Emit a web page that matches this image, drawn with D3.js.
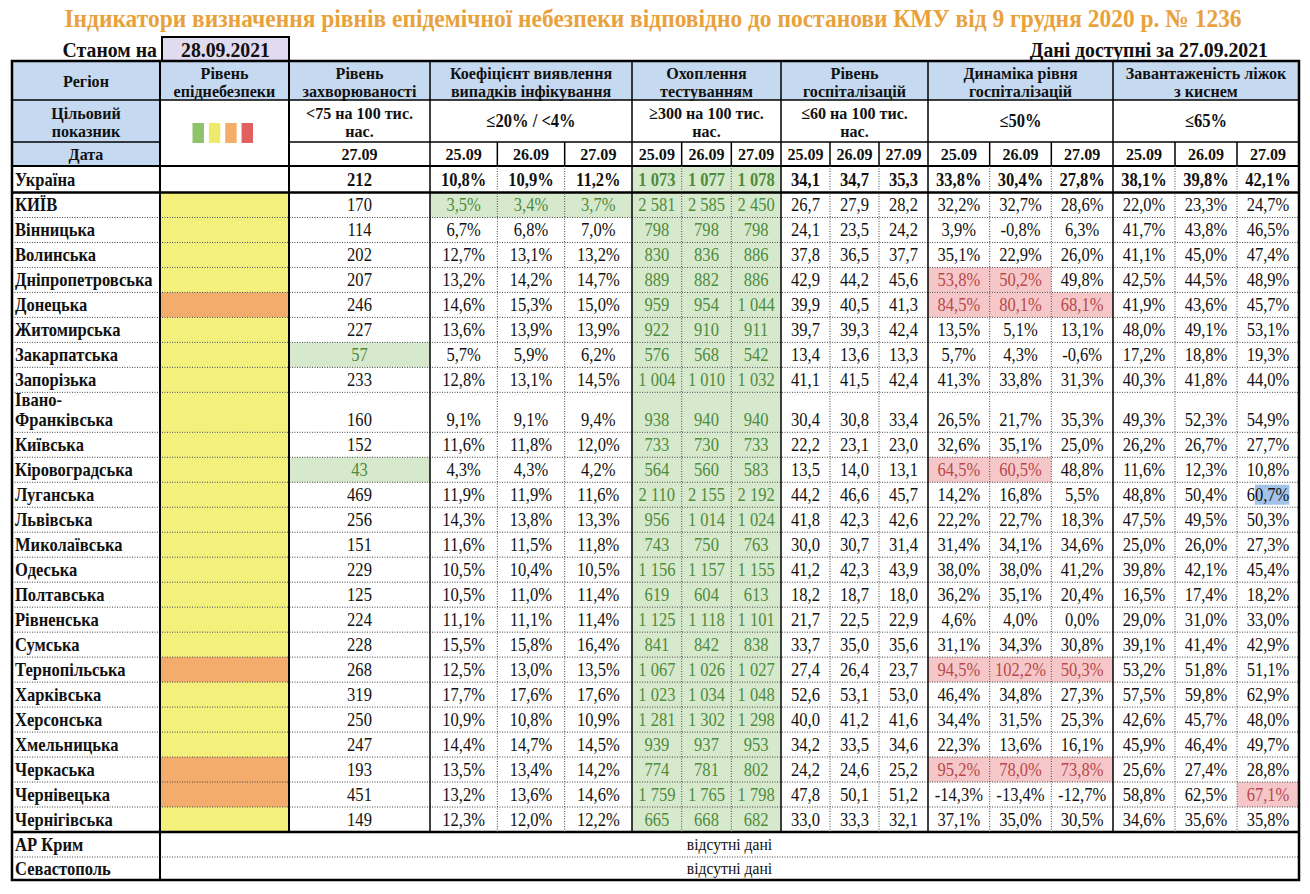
<!DOCTYPE html>
<html><head><meta charset="utf-8">
<script src="https://cdn.jsdelivr.net/npm/d3@7/dist/d3.min.js"></script>
<style>
body{margin:0;background:#fff}
svg{display:block}
text{font-family:"Liberation Serif","Times New Roman","DejaVu Serif",serif}
</style>
</head><body>
<svg id="c" width="1310" height="894"></svg>
<script>
// ---------------- DATA ----------------
const title = "Індикатори визначення рівнів епідемічної небезпеки відповідно до постанови КМУ від 9 грудня 2020 р. № 1236";
const asOfLabel = "Станом на";
const asOfDate = "28.09.2021";
const availableLabel = "Дані доступні за 27.09.2021";
const dates = ["25.09", "26.09", "27.09"];
const incidenceDate = "27.09";

const regions = ["Україна","КИЇВ","Вінницька","Волинська","Дніпропетровська","Донецька","Житомирська","Закарпатська","Запорізька","Івано-Франківська","Київська","Кіровоградська","Луганська","Львівська","Миколаївська","Одеська","Полтавська","Рівненська","Сумська","Тернопільська","Харківська","Херсонська","Хмельницька","Черкаська","Чернівецька","Чернігівська"];

const dangerLevel = ["","yellow","yellow","yellow","yellow","orange","yellow","yellow","yellow","yellow","yellow","yellow","yellow","yellow","yellow","yellow","yellow","yellow","yellow","orange","yellow","yellow","yellow","orange","orange","yellow"];

const incidence = [212,170,114,202,207,246,227,57,233,160,152,43,469,256,151,229,125,224,228,268,319,250,247,193,451,149];

const detection = [[10.8,10.9,11.2],[3.5,3.4,3.7],[6.7,6.8,7.0],[12.7,13.1,13.2],[13.2,14.2,14.7],[14.6,15.3,15.0],[13.6,13.9,13.9],[5.7,5.9,6.2],[12.8,13.1,14.5],[9.1,9.1,9.4],[11.6,11.8,12.0],[4.3,4.3,4.2],[11.9,11.9,11.6],[14.3,13.8,13.3],[11.6,11.5,11.8],[10.5,10.4,10.5],[10.5,11.0,11.4],[11.1,11.1,11.4],[15.5,15.8,16.4],[12.5,13.0,13.5],[17.7,17.6,17.6],[10.9,10.8,10.9],[14.4,14.7,14.5],[13.5,13.4,14.2],[13.2,13.6,14.6],[12.3,12.0,12.2]];

const testing = [[1073,1077,1078],[2581,2585,2450],[798,798,798],[830,836,886],[889,882,886],[959,954,1044],[922,910,911],[576,568,542],[1004,1010,1032],[938,940,940],[733,730,733],[564,560,583],[2110,2155,2192],[956,1014,1024],[743,750,763],[1156,1157,1155],[619,604,613],[1125,1118,1101],[841,842,838],[1067,1026,1027],[1023,1034,1048],[1281,1302,1298],[939,937,953],[774,781,802],[1759,1765,1798],[665,668,682]];

const hospitalization = [[34.1,34.7,35.3],[26.7,27.9,28.2],[24.1,23.5,24.2],[37.8,36.5,37.7],[42.9,44.2,45.6],[39.9,40.5,41.3],[39.7,39.3,42.4],[13.4,13.6,13.3],[41.1,41.5,42.4],[30.4,30.8,33.4],[22.2,23.1,23.0],[13.5,14.0,13.1],[44.2,46.6,45.7],[41.8,42.3,42.6],[30.0,30.7,31.4],[41.2,42.3,43.9],[18.2,18.7,18.0],[21.7,22.5,22.9],[33.7,35.0,35.6],[27.4,26.4,23.7],[52.6,53.1,53.0],[40.0,41.2,41.6],[34.2,33.5,34.6],[24.2,24.6,25.2],[47.8,50.1,51.2],[33.0,33.3,32.1]];

const hospDynamics = [[33.8,30.4,27.8],[32.2,32.7,28.6],[3.9,-0.8,6.3],[35.1,22.9,26.0],[53.8,50.2,49.8],[84.5,80.1,68.1],[13.5,5.1,13.1],[5.7,4.3,-0.6],[41.3,33.8,31.3],[26.5,21.7,35.3],[32.6,35.1,25.0],[64.5,60.5,48.8],[14.2,16.8,5.5],[22.2,22.7,18.3],[31.4,34.1,34.6],[38.0,38.0,41.2],[36.2,35.1,20.4],[4.6,4.0,0.0],[31.1,34.3,30.8],[94.5,102.2,50.3],[46.4,34.8,27.3],[34.4,31.5,25.3],[22.3,13.6,16.1],[95.2,78.0,73.8],[-14.3,-13.4,-12.7],[37.1,35.0,30.5]];

const oxygenBeds = [[38.1,39.8,42.1],[22.0,23.3,24.7],[41.7,43.8,46.5],[41.1,45.0,47.4],[42.5,44.5,48.9],[41.9,43.6,45.7],[48.0,49.1,53.1],[17.2,18.8,19.3],[40.3,41.8,44.0],[49.3,52.3,54.9],[26.2,26.7,27.7],[11.6,12.3,10.8],[48.8,50.4,60.7],[47.5,49.5,50.3],[25.0,26.0,27.3],[39.8,42.1,45.4],[16.5,17.4,18.2],[29.0,31.0,33.0],[39.1,41.4,42.9],[53.2,51.8,51.1],[57.5,59.8,62.9],[42.6,45.7,48.0],[45.9,46.4,49.7],[25.6,27.4,28.8],[58.8,62.5,67.1],[34.6,35.6,35.8]];

const missingRegions = ["АР Крим", "Севастополь"];
const missingText = "відсутні дані";

const headerTitles = [["Регіон"],["Рівень","епіднебезпеки"],["Рівень","захворюваності"],["Коефіцієнт виявлення","випадків інфікування"],["Охоплення","тестуванням"],["Рівень","госпіталізацій"],["Динаміка рівня","госпіталізацій"],["Завантаженість ліжок","з киснем"]];
const targetTitles = [["Цільовий","показник"],null,["<75 на 100 тис.","нас."],["≤20% / <4%"],["≥300 на 100 тис.","нас."],["≤60 на 100 тис.","нас."],["≤50%"],["≤65%"]];
const dateLabel = "Дата";

// ---------------- LAYOUT / STYLE ----------------
const C = {
  title:"#E9A23B", blue:"#C5D9F1", lav:"#E1DBEF", yellow:"#F3F07C", orange:"#F3AC6C",
  greenBg:"#D7E9CD", greenTx:"#4E8B3A", redBg:"#F5C7C8", redTx:"#B8484B", text:"#111",
  legend:["#8CC36B","#EEEA6C","#F4AE6A","#E0605F"], sel:"#A3C4E8"
};
const SX = 0.92; // horizontal squeeze of the glyphs seen in the source
const edges = [12,160,289,430,632,781,928,1113,1299];
const L = 12, R = 1299;
const yH1 = 61, yH2 = 100, yH3 = 142, yH4 = 166, yUA = 192.5, yEnd = 832, yMiss = [832, 857, 880];

const fmtL = d3.formatLocale({decimal:",", thousands:" ", grouping:[3], currency:["",""], minus:"-"});
const fPct = v => fmtL.format(".1f")(v) + "%";
const fDec = v => fmtL.format(".1f")(v);
const fInt = v => fmtL.format(",d")(v);

const svg = d3.select("#c");
const gFill = svg.append("g"), gText = svg.append("g"), gLine = svg.append("g");

// row scale
const body = regions.slice(1);
const units = body.map(r => r.includes("-") ? 1.6 : 1);
const cum = [0, ...d3.cumsum(units)];
const yS = d3.scaleLinear().domain([0, cum[cum.length-1]]).range([yUA, yEnd]);
const rows = regions.map((r, i) => i === 0 ? {name:r, i, y0:yH4, y1:yUA}
                                            : {name:r, i, y0:yS(cum[i-1]), y1:yS(cum[i])});

// sub-column scales
const groups = [
  {key:"det", data:detection, fmt:fPct, x:[edges[3],edges[4]], cls:v => v < 4 ? "g" : ""},
  {key:"test", data:testing, fmt:fInt, x:[edges[4],edges[5]], cls:v => v >= 300 ? "g" : ""},
  {key:"hosp", data:hospitalization, fmt:fDec, x:[edges[5],edges[6]], cls:v => ""},
  {key:"dyn", data:hospDynamics, fmt:fPct, x:[edges[6],edges[7]], cls:v => v > 50 ? "r" : ""},
  {key:"oxy", data:oxygenBeds, fmt:fPct, x:[edges[7],edges[8]], cls:v => v > 65 ? "r" : ""}
];
groups.forEach(g => g.sx = d3.scaleBand().domain(dates).range(g.x));

function txt(x, y, s, o = {}) {
  return gText.append("text").attr("transform", `translate(${x},${y}) scale(${SX},1)`)
    .attr("x", 0).attr("y", 0).attr("dy", "0.35em")
    .attr("font-family", "Liberation Serif, Times New Roman, DejaVu Serif, serif")
    .attr("text-anchor", o.anchor || "middle").attr("font-size", o.size || 18)
    .attr("font-weight", o.bold ? "bold" : "normal").attr("fill", o.fill || C.text).text(s);
}
const rect = (x0, y0, x1, y1, f) => gFill.append("rect").attr("x", x0).attr("y", y0)
  .attr("width", x1 - x0).attr("height", y1 - y0).attr("fill", f);

// ---------- top texts ----------
txt(653, 18, title, {size:25.5, bold:true, fill:C.title});
txt(157, 49, asOfLabel, {size:21.5, bold:true, anchor:"end"});
rect(162, 37, 289, 61, C.lav);
gLine.append("rect").attr("x",162).attr("y",37).attr("width",127).attr("height",24)
  .attr("fill","none").attr("stroke","#000").attr("stroke-width",2);
txt(225.5, 49, asOfDate, {size:21.5, bold:true});
txt(1268, 49, availableLabel, {size:21.5, bold:true, anchor:"end"});

// ---------- header ----------
rect(edges[0], yH1, edges[1], yH4, C.blue);
for (let k = 1; k < 8; k++) rect(edges[k], yH1, edges[k+1], yH2, C.blue);
headerTitles.forEach((t, k) => {
  const cx = (edges[k] + edges[k+1]) / 2;
  if (t.length === 1) txt(cx, (yH1 + yH2) / 2, t[0], {size:17.5, bold:true});
  else t.forEach((s, j) => txt(cx, 72.5 + j * 18, s, {size:17.5, bold:true}));
});
targetTitles.forEach((t, k) => {
  if (!t) return;
  const cx = (edges[k] + edges[k+1]) / 2;
  if (t.length === 1) txt(cx, (yH2 + yH3) / 2, t[0], {size:18, bold:true});
  else t.forEach((s, j) => txt(cx, 112.5 + j * 18, s, {size:17.5, bold:true}));
});
// legend squares
const lgX = d3.scaleBand().domain(d3.range(4)).range([192.5, 253]).paddingInner(0.3);
C.legend.forEach((c, i) => rect(lgX(i), 123, lgX(i) + lgX.bandwidth(), 143, c));
// date row
txt((edges[0]+edges[1])/2, (yH3+yH4)/2, dateLabel, {size:17.5, bold:true});
txt((edges[2]+edges[3])/2, (yH3+yH4)/2, incidenceDate, {size:17.5, bold:true});
groups.forEach(g => dates.forEach(d => txt(g.sx(d) + g.sx.bandwidth()/2, (yH3+yH4)/2, d, {size:17.5, bold:true})));

// ---------- body ----------
rows.forEach(row => {
  const i = row.i, bold = i === 0;
  const cy = row.y1 - 12.5;
  if (row.name.includes("-")) {
    const p = row.name.indexOf("-") + 1;
    txt(15, cy - 20, row.name.slice(0, p), {bold:true, anchor:"start"});
    txt(15, cy, row.name.slice(p), {bold:true, anchor:"start"});
  } else txt(15, cy, row.name, {bold:true, anchor:"start"});
  if (dangerLevel[i]) rect(edges[1], row.y0, edges[2], row.y1, C[dangerLevel[i]]);
  const incG = incidence[i] < 75;
  if (incG) rect(edges[2], row.y0, edges[3], row.y1, C.greenBg);
  txt((edges[2]+edges[3])/2, cy, fInt(incidence[i]), {bold, fill: incG ? C.greenTx : C.text});
  groups.forEach(g => dates.forEach((d, j) => {
    const v = g.data[i][j], c = g.cls(v);
    const x0 = g.sx(d), x1 = x0 + g.sx.bandwidth();
    if (c) rect(x0, row.y0, x1, row.y1, c === "g" ? C.greenBg : C.redBg);
    txt((x0 + x1) / 2, cy, g.fmt(v), {bold, fill: c === "g" ? C.greenTx : c === "r" ? C.redTx : C.text})
      .attr("data-k", g.key + "|" + row.name + "|" + d);
  }));
});

// selection highlight (as in the source screenshot)
const selNode = gText.select("[data-k='oxy|Луганська|27.09']").node();
if (selNode) {
  const sx = selNode.getStartPositionOfChar(1).x, sw = selNode.getSubStringLength(1, selNode.getNumberOfChars() - 1);
  gFill.append("rect").attr("transform", selNode.getAttribute("transform"))
    .attr("x", sx).attr("y", -10).attr("width", sw).attr("height", 20).attr("fill", C.sel);
}

// missing data rows
missingRegions.forEach((m, k) => {
  const cy = (yMiss[k] + yMiss[k+1]) / 2;
  txt(15, cy, m, {bold:true, anchor:"start"});
  txt((edges[1] + R) / 2, cy, missingText, {size:17});
});

// ---------- grid lines ----------
function hl(y, x0, x1, w, dotted) {
  const l = gLine.append("line").attr("x1", x0).attr("x2", x1).attr("y1", y).attr("y2", y)
    .attr("stroke", dotted ? "#444" : "#000").attr("stroke-width", w);
  if (dotted) l.attr("stroke-dasharray", "1,1.5");
}
function vl(x, y0, y1, w, dotted) {
  const l = gLine.append("line").attr("x1", x).attr("x2", x).attr("y1", y0).attr("y2", y1)
    .attr("stroke", dotted ? "#444" : "#000").attr("stroke-width", w);
  if (dotted) l.attr("stroke-dasharray", "1,1.5");
}
hl(yH2, L, R, 1.5);
hl(yH3, L, edges[1], 1.5); hl(yH3, edges[2], R, 1.5);
hl(yH4, L, R, 2);
hl(yUA, L, R, 2.5);
rows.slice(1, -1).forEach(r => hl(r.y1, L, R, 1, true));
hl(yEnd, L, R, 2.5);
hl(yMiss[1], L, R, 1, true);
vl(edges[1], yH1, yMiss[2], 2);
for (let k = 2; k < 8; k++) vl(edges[k], yH1, yEnd, k === 2 ? 2 : 1.5);
groups.forEach(g => dates.slice(1).forEach(d => {
  vl(g.sx(d), yH3, yH4, 1.5);
  vl(g.sx(d), yH4, yEnd, 1, true);
}));
gLine.append("rect").attr("x", L).attr("y", yH1).attr("width", R - L).attr("height", yMiss[2] - yH1)
  .attr("fill", "none").attr("stroke", "#000").attr("stroke-width", 2.5);
</script>
</body></html>
